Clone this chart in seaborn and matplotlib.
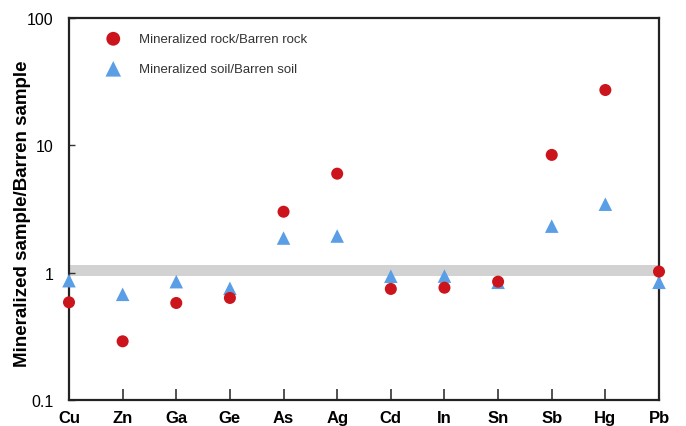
import matplotlib
matplotlib.use("Agg")
import matplotlib.pyplot as plt
import seaborn as sns
import pandas as pd
from matplotlib.ticker import FixedLocator, FixedFormatter, NullLocator

elements = ["Cu", "Zn", "Ga", "Ge", "As", "Ag", "Cd", "In", "Sn", "Sb", "Hg", "Pb"]
rock_ratio = [0.585, 0.289, 0.578, 0.633, 3.01, 5.99, 0.745, 0.762, 0.85, 8.41, 27.2, 1.02]
soil_ratio = [0.865, 0.676, 0.85, 0.753, 1.87, 1.94, 0.937, 0.94, 0.84, 2.32, 3.45, 0.84]
rock_label = "Mineralized rock/Barren rock"
soil_label = "Mineralized soil/Barren soil"
y_ticks = [0.1, 1, 10, 100]
y_tick_labels = ["0.1", "1", "10", "100"]
band_low, band_high = 0.94, 1.15

sns.set_theme(style="white")
plt.rcParams["font.family"] = ["Liberation Sans", "DejaVu Sans"]

rock_df = pd.DataFrame({"element": elements, "ratio": rock_ratio})
soil_df = pd.DataFrame({"element": elements, "ratio": soil_ratio})

fig = plt.figure(figsize=(6.86, 4.27), dpi=100)
ax = fig.add_axes([69 / 686, 1 - 401 / 427, 590 / 686, 382 / 427])

ax.axhspan(band_low, band_high, color="#D2D2D2", zorder=0, lw=0)

sns.scatterplot(data=soil_df, x="element", y="ratio", marker="^", s=95,
                color="#5A9EE6", edgecolor="none", ax=ax, zorder=3,
                clip_on=False, label=soil_label, legend=False)
sns.scatterplot(data=rock_df, x="element", y="ratio", marker="o", s=75,
                color="#CC141C", edgecolor="none", ax=ax, zorder=4,
                clip_on=False, label=rock_label, legend=False)

ax.set_yscale("log")
ax.set_ylim(0.1, 100)
ax.set_xlim(0, len(elements) - 1)
ax.yaxis.set_major_locator(FixedLocator(y_ticks))
ax.yaxis.set_major_formatter(FixedFormatter(y_tick_labels))
ax.yaxis.set_minor_locator(NullLocator())
ax.set_xticks(range(len(elements)))
ax.set_xticklabels(elements, fontweight="bold", fontsize=12, color="black")

ax.tick_params(axis="x", direction="in", length=8, width=1.2, color="#333333",
               pad=7, bottom=True)
ax.tick_params(axis="y", direction="in", length=4, width=1.0, color="#333333",
               pad=11, left=True, labelsize=11.5, labelcolor="black")

for sp in ax.spines.values():
    sp.set_visible(True)
    sp.set_color("#222222")
    sp.set_linewidth(1.6)

ax.set_xlabel("")
ax.set_ylabel("Mineralized sample/Barren sample", fontsize=13.5, fontweight="bold",
              color="black")
ax.yaxis.set_label_coords(-0.064, 0.49)

handles, labels = ax.get_legend_handles_labels()
order = [labels.index(rock_label), labels.index(soil_label)]
leg = ax.legend([handles[i] for i in order], [labels[i] for i in order],
                loc="upper left", bbox_to_anchor=((106 - 69) / 590, (401 - 34) / 382),
                frameon=False, fontsize=9.5, handlelength=1.1, handletextpad=1.4,
                labelspacing=1.35, borderpad=0, borderaxespad=0, markerscale=1.15)
for t in leg.get_texts():
    t.set_color("#333333")

fig.savefig("out.png", dpi=100)
